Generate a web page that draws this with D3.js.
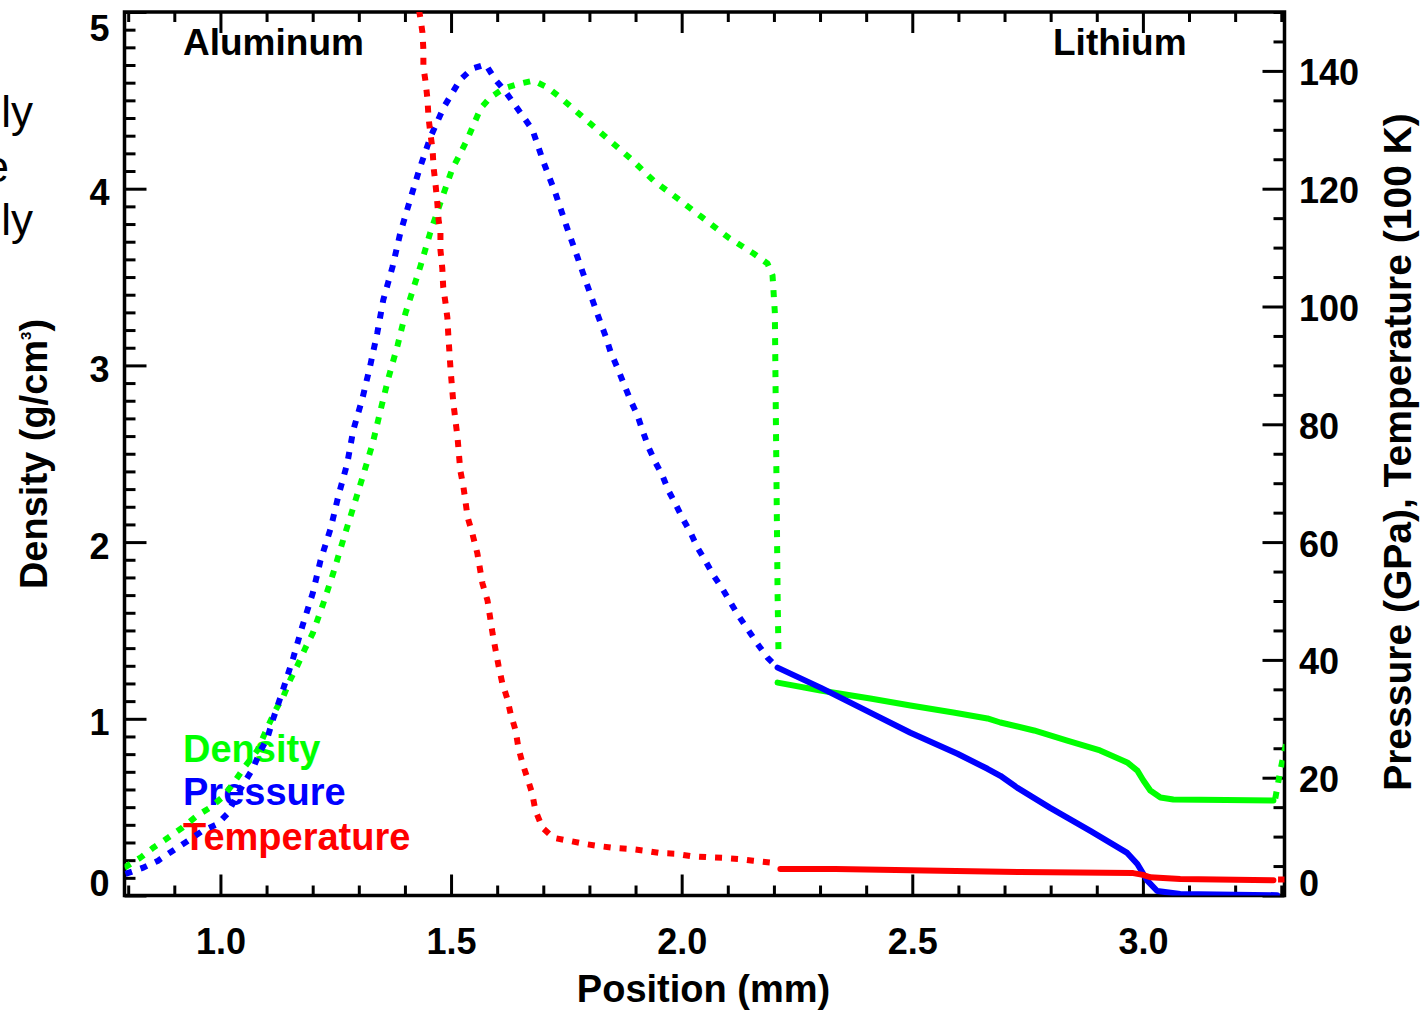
<!DOCTYPE html>
<html>
<head>
<meta charset="utf-8">
<script src="https://cdn.jsdelivr.net/npm/d3@7"></script>
<style>
  html, body { margin: 0; padding: 0; background: #fff; }
  svg { display: block; }
  text { font-family: "Liberation Sans", Arial, Helvetica, sans-serif; font-weight: bold; fill: #000; }
  .tick text { font-size: 36px; }
  .side { font-weight: normal; font-size: 44px; }
</style>
</head>
<body>
<svg id="chart" width="1423" height="1011"></svg>
<script>
// ---- data: position (mm) vs. density (g/cm^3), pressure (GPa), temperature (100 K)
// Aluminum side of the interface (drawn dotted)
const densityAl = [
  [0.792,0.158],[0.827,0.215],[0.855,0.272],[0.887,0.328],[0.918,0.385],[0.950,0.453],
  [0.978,0.498],[1.004,0.555],[1.028,0.634],[1.050,0.719],[1.080,0.821],[1.102,0.951],
  [1.119,1.047],[1.137,1.130],[1.152,1.225],[1.167,1.302],[1.184,1.400],[1.200,1.483],
  [1.223,1.653],[1.245,1.828],[1.267,2.020],[1.288,2.196],[1.308,2.366],[1.330,2.558],
  [1.347,2.745],[1.364,2.926],[1.384,3.113],[1.401,3.294],[1.412,3.384],[1.434,3.565],
  [1.455,3.752],[1.477,3.922],[1.503,4.114],[1.520,4.199],[1.536,4.284],[1.564,4.454],
  [1.585,4.516],[1.614,4.567],[1.650,4.595],[1.679,4.612],[1.709,4.573],[1.737,4.516],
  [1.787,4.403],[1.839,4.284],[1.889,4.171],[1.939,4.046],[1.991,3.945],[2.045,3.837],
  [2.101,3.724],[2.156,3.633],[2.186,3.577],[2.197,3.509],[2.202,3.300],[2.205,2.500],
  [2.208,1.700],[2.210,1.360]
];
const pressureAl = [
  [0.794,3.66],[0.831,4.68],[0.864,5.87],[0.896,7.57],[0.929,9.27],[0.961,10.97],
  [0.994,12.16],[1.015,13.86],[1.033,16.58],[1.050,18.96],[1.070,21.51],[1.087,24.57],
  [1.102,26.79],[1.113,29.68],[1.135,34.78],[1.158,40.39],[1.178,45.83],[1.200,51.28],
  [1.217,56.89],[1.239,62.33],[1.256,67.94],[1.275,73.38],[1.288,79.00],[1.308,84.44],
  [1.325,90.05],[1.340,95.49],[1.353,101.1],[1.373,106.7],[1.390,112.5],[1.410,117.8],
  [1.431,123.2],[1.455,128.7],[1.484,133.8],[1.503,136.3],[1.520,138.5],[1.546,140.4],
  [1.575,141.1],[1.596,138.5],[1.616,136.7],[1.635,134.6],[1.657,132.2],[1.677,129.9],
  [1.700,124.6],[1.726,119.3],[1.750,113.7],[1.774,108.4],[1.798,103.0],[1.822,97.70],
  [1.835,94.98],[1.846,92.26],[1.861,89.54],[1.874,86.99],[1.889,84.10],[1.904,81.55],
  [1.915,78.99],[1.928,76.11],[1.943,73.55],[1.958,71.34],[1.971,68.79],[1.986,66.58],
  [2.002,64.03],[2.019,61.65],[2.034,59.10],[2.051,56.89],[2.069,54.34],[2.088,52.13],
  [2.106,49.74],[2.123,47.53],[2.145,44.98],[2.164,42.77],[2.186,40.39],[2.208,38.69]
];
const temperatureAl = [
  [1.425,153.0],[1.434,148.7],[1.438,146.5],[1.440,143.6],[1.440,140.7],[1.445,138.0],
  [1.449,135.1],[1.451,132.2],[1.455,129.5],[1.460,126.6],[1.462,123.7],[1.466,121.0],
  [1.470,117.8],[1.473,114.7],[1.477,112.5],[1.477,109.6],[1.481,106.5],[1.483,103.3],
  [1.488,100.6],[1.492,98.1],[1.494,95.2],[1.499,89.2],[1.505,83.6],[1.514,77.8],
  [1.520,72.2],[1.527,69.3],[1.536,64.2],[1.546,61.5],[1.557,58.1],[1.568,53.0],
  [1.579,50.1],[1.590,44.5],[1.596,41.9],[1.603,39.0],[1.611,36.1],[1.622,33.4],
  [1.629,30.9],[1.640,28.0],[1.646,25.1],[1.655,22.4],[1.666,19.8],[1.676,17.3],
  [1.683,14.4],[1.698,11.5],[1.722,9.8],[1.755,9.3],[1.787,8.8],[1.820,8.4],
  [1.852,8.1],[1.889,7.9],[1.921,7.6],[1.954,7.2],[1.986,7.1],[2.019,6.7],
  [2.056,6.5],[2.088,6.4],[2.123,6.2],[2.155,5.9],[2.192,5.6]
];
// Lithium side (drawn solid)
const densityLi = [
  [2.208,1.205],[2.301,1.160],[2.409,1.115],[2.496,1.075],[2.589,1.036],[2.663,1.002],
  [2.691,0.979],[2.764,0.934],[2.836,0.877],[2.907,0.821],[2.966,0.753],[2.988,0.707],
  [3.001,0.651],[3.016,0.594],[3.038,0.555],[3.066,0.543],[3.180,0.540],[3.283,0.538]
];
const pressureLi = [
  [2.208,38.69],[2.301,35.29],[2.409,31.04],[2.496,27.64],[2.598,24.06],[2.663,21.51],
  [2.691,20.32],[2.728,18.28],[2.799,14.88],[2.886,10.97],[2.966,7.23],[2.988,5.36],
  [3.010,2.47],[3.031,0.77],[3.081,0.26],[3.291,0.05]
];
const temperatureLi = [
  [2.214,4.5],[2.333,4.5],[2.561,4.2],[2.734,4.0],[2.979,3.8],[3.000,3.5],
  [3.016,3.1],[3.081,2.8],[3.283,2.6]
];
// far-right boundary cells (dotted)
const densityEdge = [[3.287,0.549],[3.298,0.707],[3.307,0.821],[3.312,0.870]];
const temperatureEdge = [[3.293,2.7],[3.312,2.7]];

// ---- axes
const positionDomain = [0.792, 3.307];
const densityDomain = [0, 5];
const rightDomain = [0, 150];
const positionTicks = [1.0, 1.5, 2.0, 2.5, 3.0];
const densityTicks = [0, 1, 2, 3, 4, 5];
const rightTicks = [0, 20, 40, 60, 80, 100, 120, 140];
const legendLabels = ["Density", "Pressure", "Temperature"];
const materialLabels = ["Aluminum", "Lithium"];

const colors = { density: "#00ff00", pressure: "#0000ff", temperature: "#ff0000" };

const plot = { left: 124.5, right: 1284.5, top: 12, bottom: 895.5 };
const svg = d3.select("#chart");

const x = d3.scaleLinear().domain(positionDomain).range([plot.left, plot.right]);
const yDen = d3.scaleLinear().domain(densityDomain).range([plot.bottom, plot.top]);
const yRight = d3.scaleLinear().domain(rightDomain).range([plot.bottom, plot.top]);

const MAJOR = 21, MINOR = 10;

function clean(g) {
  g.attr("font-family", null).attr("font-size", null);
  g.select(".domain").remove();
  g.selectAll(".tick line").attr("stroke", "#000").attr("stroke-width", 3);
}

// minor tick positions
const xMinor = d3.range(8, 34).map(v => v / 10).filter(v => v <= positionDomain[1] && Math.abs(v * 2 - Math.round(v * 2)) > 1e-6);
const denMinor = d3.range(1, 50).map(v => v / 10).filter(v => Math.abs(v - Math.round(v)) > 1e-6);
const rightMinor = d3.range(5, 151, 5).filter(v => v % 20 !== 0);

// bottom
svg.append("g").attr("transform", `translate(0,${plot.bottom})`)
  .call(d3.axisBottom(x).tickValues(positionTicks).tickFormat(d3.format(".1f"))
    .tickSizeInner(-MAJOR).tickSizeOuter(0))
  .call(clean)
  .call(g => g.selectAll(".tick text").attr("y", 954 - plot.bottom).attr("dy", null));
svg.append("g").attr("transform", `translate(0,${plot.bottom})`)
  .call(d3.axisBottom(x).tickValues(xMinor).tickFormat("").tickSizeInner(-MINOR).tickSizeOuter(0))
  .call(clean);
// top
svg.append("g").attr("transform", `translate(0,${plot.top})`)
  .call(d3.axisTop(x).tickValues(positionTicks).tickFormat("").tickSizeInner(-MAJOR).tickSizeOuter(0))
  .call(clean);
svg.append("g").attr("transform", `translate(0,${plot.top})`)
  .call(d3.axisTop(x).tickValues(xMinor).tickFormat("").tickSizeInner(-MINOR).tickSizeOuter(0))
  .call(clean);
// left (density)
svg.append("g").attr("transform", `translate(${plot.left},0)`)
  .call(d3.axisLeft(yDen).tickValues(densityTicks).tickFormat(d3.format("d"))
    .tickSizeInner(-MAJOR - 1).tickSizeOuter(0).tickPadding(15))
  .call(clean)
  .call(g => g.selectAll(".tick text")
    .attr("x", -(plot.left - 109.5))
    .attr("dy", null)
    .attr("y", d => Math.max(27, Math.min(882, yDen(d) + 3)) + 13 - yDen(d)));
svg.append("g").attr("transform", `translate(${plot.left},0)`)
  .call(d3.axisLeft(yDen).tickValues(denMinor).tickFormat("").tickSizeInner(-MINOR - 1).tickSizeOuter(0))
  .call(clean);
// right (pressure / temperature)
svg.append("g").attr("transform", `translate(${plot.right},0)`)
  .call(d3.axisRight(yRight).tickValues(rightTicks).tickFormat(d3.format("d"))
    .tickSizeInner(-MAJOR - 1).tickSizeOuter(0).tickPadding(15))
  .call(clean)
  .call(g => g.selectAll(".tick text")
    .attr("x", 1299 - plot.right)
    .attr("dy", null)
    .attr("y", d => Math.min(882, yRight(d) + 1) + 13 - yRight(d)));
svg.append("g").attr("transform", `translate(${plot.right},0)`)
  .call(d3.axisRight(yRight).tickValues(rightMinor).tickFormat("").tickSizeInner(-MINOR - 1).tickSizeOuter(0))
  .call(clean);

// frame
svg.append("rect")
  .attr("x", plot.left).attr("y", plot.top)
  .attr("width", plot.right - plot.left).attr("height", plot.bottom - plot.top)
  .attr("fill", "none").attr("stroke", "#000").attr("stroke-width", 3.5);

// axis titles
svg.append("text").attr("x", 703.5).attr("y", 1002).attr("text-anchor", "middle")
  .style("font-size", "38px").text("Position (mm)");

const leftTitle = svg.append("text")
  .attr("transform", "translate(47,454) rotate(-90)")
  .attr("text-anchor", "middle").style("font-size", "38px");
leftTitle.append("tspan").text("Density (g/cm");
leftTitle.append("tspan").attr("dy", -16).style("font-size", "15px").text("3");
leftTitle.append("tspan").attr("dy", 16).text(")");

svg.append("text")
  .attr("transform", "translate(1411,452) rotate(-90)")
  .attr("text-anchor", "middle").style("font-size", "39px")
  .text("Pressure (GPa), Temperature (100 K)");

// neighbouring column text at the left edge
svg.append("text").attr("class", "side").attr("x", 33).attr("y", 127).attr("text-anchor", "end").text("ly");
svg.append("text").attr("class", "side").attr("x", 9).attr("y", 182).attr("text-anchor", "end").text("e");
svg.append("text").attr("class", "side").attr("x", 33).attr("y", 235).attr("text-anchor", "end").text("ly");

// material labels
svg.append("text").attr("x", 183).attr("y", 55).style("font-size", "37px").text(materialLabels[0]);
svg.append("text").attr("x", 1053).attr("y", 55).style("font-size", "37px").text(materialLabels[1]);

// legend
const legendColors = [colors.density, colors.pressure, colors.temperature];
const legendBaselines = [762, 805, 850];
legendLabels.forEach((t, i) => {
  svg.append("text").attr("x", 183).attr("y", legendBaselines[i])
    .style("font-size", "38px").style("fill", legendColors[i]).text(t);
});

// curves
svg.append("clipPath").attr("id", "plotClip").append("rect")
  .attr("x", plot.left).attr("y", plot.top)
  .attr("width", plot.right - plot.left).attr("height", plot.bottom - plot.top);
const curves = svg.append("g").attr("clip-path", "url(#plotClip)");

function draw(data, yScale, color, dotted) {
  const line = d3.line().x(d => x(d[0])).y(d => yScale(d[1]));
  curves.append("path").datum(data)
    .attr("d", line)
    .attr("fill", "none")
    .attr("stroke", color)
    .attr("stroke-width", 6)
    .attr("stroke-linejoin", "round")
    .attr("stroke-linecap", dotted ? "butt" : "round")
    .attr("stroke-dasharray", dotted ? "7,9" : null);
}

draw(densityAl, yDen, colors.density, true);
draw(densityLi, yDen, colors.density, false);
draw(densityEdge, yDen, colors.density, true);
draw(pressureAl, yRight, colors.pressure, true);
draw(pressureLi, yRight, colors.pressure, false);
draw(temperatureAl, yRight, colors.temperature, true);
draw(temperatureLi, yRight, colors.temperature, false);
draw(temperatureEdge, yRight, colors.temperature, true);
</script>
</body>
</html>
